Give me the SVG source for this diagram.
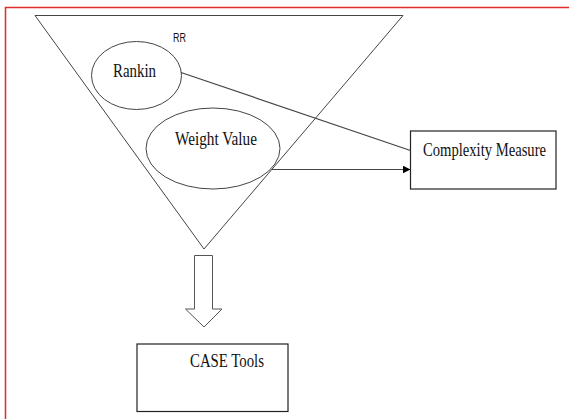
<svg xmlns="http://www.w3.org/2000/svg" width="569" height="419" viewBox="0 0 569 419">
<defs>
<style>
.lbl{font-family:"Liberation Serif","Times New Roman",serif;font-size:18px;fill:#111;text-anchor:start}
.shape{fill:#fff;stroke:#444;stroke-width:1}
.box{fill:#fff;stroke:#222;stroke-width:1.2}
.edge{fill:none;stroke:#444;stroke-width:1.2}
</style>
<marker id="ah" viewBox="0 0 10 10" refX="10" refY="5" markerWidth="8" markerHeight="8" markerUnits="userSpaceOnUse" orient="auto">
<path d="M0,0 L10,5 L0,10 Z" fill="#000"/>
</marker>
</defs>
<rect width="569" height="419" fill="#fff"/>
<path d="M5.5,419 V7.5 H569" fill="none" stroke="#e32b2b" stroke-width="1.5"/>
<g id="triangle">
<polygon class="shape" points="35,15.5 403,15.5 204,249" fill="none" stroke="#555"/>
<text x="173" y="42" style="font-family:'Liberation Sans',Arial,sans-serif;font-size:12.5px;fill:#111" textLength="13" lengthAdjust="spacingAndGlyphs">RR</text>
</g>
<g id="rankin">
<ellipse class="shape" cx="136.5" cy="75.5" rx="45" ry="34"/>
<text class="lbl" x="113" y="77" textLength="43" lengthAdjust="spacingAndGlyphs">Rankin</text>
</g>
<g id="weight-value">
<ellipse class="shape" cx="213" cy="148.5" rx="67" ry="40.5"/>
<text class="lbl" x="175" y="145" textLength="82" lengthAdjust="spacingAndGlyphs">Weight Value</text>
</g>
<g id="complexity-measure">
<rect class="box" x="410.5" y="131" width="145.5" height="58"/>
<text class="lbl" x="0" y="0" transform="translate(423,155.5) scale(1,1.15)" style="font-size:15.5px" textLength="123" lengthAdjust="spacingAndGlyphs">Complexity Measure</text>
</g>
<g id="case-tools">
<rect class="box" x="137" y="344" width="151" height="67.5"/>
<text class="lbl" x="190" y="367" textLength="74" lengthAdjust="spacingAndGlyphs">CASE Tools</text>
</g>
<g id="connectors">
<line class="edge" x1="181" y1="72.5" x2="410.5" y2="150.5"/>
<line class="edge" x1="272" y1="169.5" x2="410.5" y2="169.5" stroke="#555" stroke-width="1.5" marker-end="url(#ah)"/>
<polygon points="194.5,255.5 212.5,255.5 212.5,309 222,309 204,327 185.5,309 194.5,309" fill="#fff" stroke="#555" stroke-width="1"/>
</g>
</svg>
